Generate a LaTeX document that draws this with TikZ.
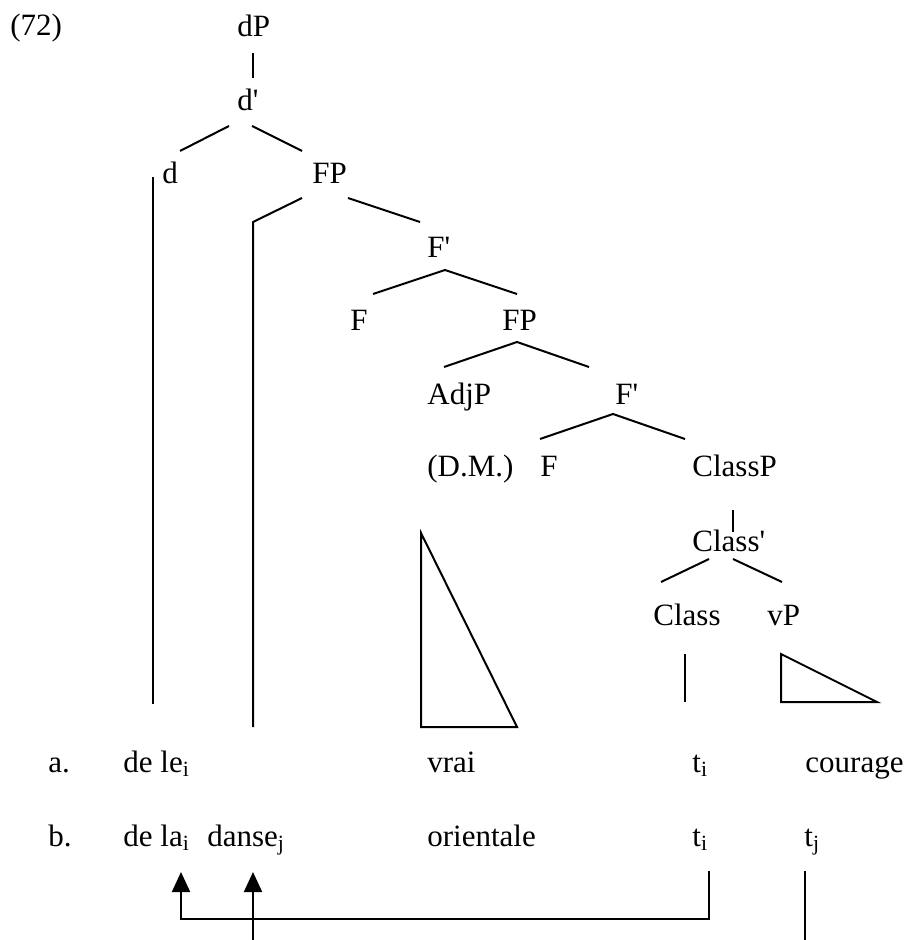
\documentclass[tikz,border=0pt]{standalone}
\usepackage{fontspec}
\setmainfont{Liberation Serif}
\usepackage{tikz}
\usetikzlibrary{arrows.meta,calc}
\tikzstyle{word}=[inner sep=0pt, anchor=base west, font=\fontsize{15.5}{18}\selectfont]
\tikzstyle{branch}=[draw, line width=1pt]
\tikzstyle{movement}=[draw, line width=1pt, ->]

\begin{document}
\begin{tikzpicture}[x=0.5pt, y=-0.5pt, >={Triangle[length=10pt, width=9pt]}]
      %
      \path[use as bounding box] (0,0) rectangle (907,940);
      %
      % tree labels
      %
      \path node[word] (ex) at (10,36) {(72)};
      \path node[word] (dP) at (237,37) {dP};
      \path node[word] (dbar) at (237,110.5) {d\textquotesingle};
      \path node[word] (d) at (162,184) {d};
      \path node[word] (FPa) at (312,184) {FP};
      \path node[word] (Fbara) at (427,257.5) {F\textquotesingle};
      \path node[word] (Fa) at (350,331) {F};
      \path node[word] (FPb) at (502,331) {FP};
      \path node[word] (AdjP) at (427,404.5) {AdjP};
      \path node[word] (Fbarb) at (615,404.5) {F\textquotesingle};
      \path node[word] (DM) at (427,476) {(D.M.)};
      \path node[word] (Fb) at (540,476) {F};
      \path node[word] (ClassP) at (692,476) {ClassP};
      \path node[word] (Classbar) at (692,551) {Class\textquotesingle};
      \path node[word] (Class) at (653,625) {Class};
      \path node[word] (vP) at (767,625) {vP};
      %
      % examples a. and b.
      %
      \path node[word] (rowa) at (48,772) {a.};
      \path node[word] (dele) at (123,772) {de le\textsubscript{i}};
      \path node[word] (vrai) at (427,772) {vrai};
      \path node[word] (tia) at (692,772) {t\textsubscript{i}};
      \path node[word] (courage) at (805,772) {courage};
      \path node[word] (rowb) at (48,846) {b.};
      \path node[word] (dela) at (123,846) {de la\textsubscript{i}};
      \path node[word] (danse) at (207,846) {danse\textsubscript{j}};
      \path node[word] (orientale) at (427,846) {orientale};
      \path node[word] (tib) at (692,846) {t\textsubscript{i}};
      \path node[word] (tj) at (804,846) {t\textsubscript{j}};
      %
      % dP --> d'
      %
      \path[branch] ($(dP.base west)+(16,16)$) -- ($(dbar.base west)+(16,-32.5)$);
      %
      % d' --> d, FP
      %
      \path[branch] ($(dbar.base west)+(-8,15.5)$) -- ($(d.base west)+(18,-33)$);
      \path[branch] ($(dbar.base west)+(15,15.5)$) -- ($(FPa.base west)+(-10,-33)$);
      \path[branch] ($(d.base west)+(-9,-7)$) -- ($(dele.base west)+(30,-68)$);
      %
      % FP --> (danse), F'
      %
      \path[branch] ($(FPa.base west)+(-10,14)$) -- ++(-49,24) -- ($(danse.base west)+(46,-119)$);
      \path[branch] ($(FPa.base west)+(36,14)$) -- ($(Fbara.base west)+(-7,-35.5)$);
      %
      % F' --> F, FP
      %
      \path[branch] ($(Fa.base west)+(23,-37)$) -- ($(Fbara.base west)+(18,12.5)$) -- ($(FPb.base west)+(15,-37)$);
      %
      % FP --> AdjP, F'
      %
      \path[branch] ($(AdjP.base west)+(17,-37.5)$) -- ($(FPb.base west)+(15,11)$) -- ($(Fbarb.base west)+(-26,-37.5)$);
      %
      % F' --> F, ClassP
      %
      \path[branch] ($(Fb.base west)+(0,-37)$) -- ($(Fbarb.base west)+(-2,9.5)$) -- ($(ClassP.base west)+(-7,-37)$);
      %
      % ClassP --> Class' --> Class, vP
      %
      \path[branch] ($(ClassP.base west)+(41,34)$) -- ($(Classbar.base west)+(41,-19)$);
      \path[branch] ($(Classbar.base west)+(17,8)$) -- ($(Class.base west)+(8,-43)$);
      \path[branch] ($(Classbar.base west)+(41,8)$) -- ($(vP.base west)+(15,-43)$);
      \path[branch] ($(Class.base west)+(32,29)$) -- ($(tia.base west)+(-7,-70)$);
      \path[branch] ($(vP.base west)+(14,29)$) -- ++(0,48) -- ++(96,0) -- cycle;
      %
      % AdjP triangle over vrai
      %
      \path[branch] ($(DM.base west)+(-6,57)$) -- ($(vrai.base west)+(-6,-45)$) -- ++(96,0) -- cycle;
      %
      % movement: t_i --> de la_i, (t_j) --> danse_j
      %
      \path[movement] ($(tib.base west)+(17,25)$) -- ++(0,48) -| ($(dela.base west)+(58,26)$);
      \path[movement] ($(danse.base west)+(46,94)$) -- ($(danse.base west)+(46,26)$);
      \path[branch] ($(tj.base west)+(1,25)$) -- ++(0,69);
      %
\end{tikzpicture}
\end{document}
